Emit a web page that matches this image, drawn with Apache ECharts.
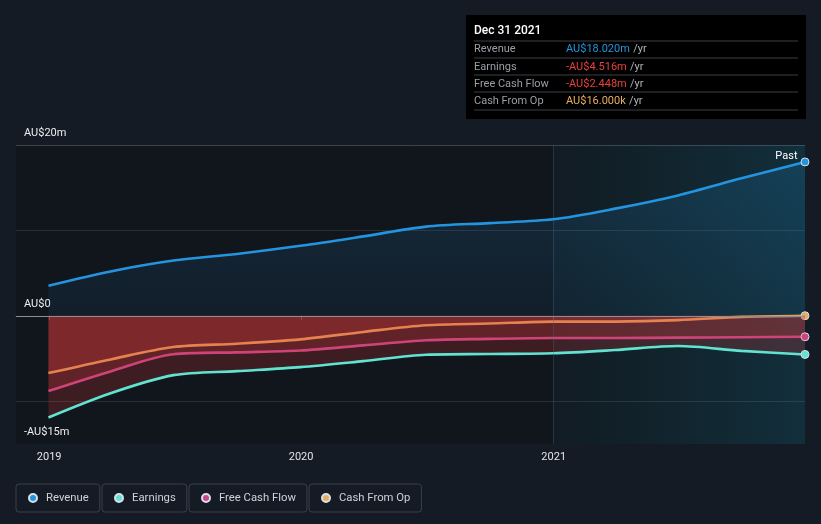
<!DOCTYPE html>
<html>
<head>
<meta charset="utf-8">
<script src="https://cdn.jsdelivr.net/npm/echarts@6/dist/echarts.min.js"></script>
<style>
html,body{margin:0;padding:0;background:#151b25;}
#c{width:821px;height:524px;}
</style>
</head>
<body>
<div id="c"></div>
<script>
const dates = ['2018-12-31','2019-03-31','2019-06-30','2019-09-30','2019-12-31','2020-03-31','2020-06-30','2020-09-30','2020-12-31','2021-03-31','2021-06-30','2021-09-30','2021-12-31'];
const revenue = [3.53, 5.2, 6.47, 7.25, 8.2, 9.3, 10.45, 10.86, 11.3, 12.55, 14.1, 16.1, 18.02];
const earnings = [-11.9, -9.06, -6.94, -6.47, -6.0, -5.3, -4.55, -4.47, -4.38, -4.0, -3.53, -4.1, -4.516];
const fcf = [-8.8, -6.5, -4.5, -4.27, -4.05, -3.45, -2.86, -2.7, -2.6, -2.6, -2.55, -2.5, -2.448];
const cfo = [-6.7, -5.1, -3.65, -3.26, -2.75, -1.88, -1.1, -0.9, -0.68, -0.67, -0.5, -0.12, 0.016];
const yTickLabels = {'20':'AU$20m','0':'AU$0','-15':'-AU$15m'};
const seriesNames = ['Revenue','Earnings','Free Cash Flow','Cash From Op'];
const seriesColors = ['#2394df','#62e3d2','#c9478a','#e8ad5e'];
const tooltipTitle = 'Dec 31 2021';
const pastStart = '2021-01-01';

const font = 'Roboto, "Noto Sans", sans-serif';
const last = dates.length - 1;
function pairs(arr){ return arr.map((v,i)=>[dates[i], v]); }
function fmt(v){
  const a = Math.abs(v);
  const s = v < 0 ? '-' : '';
  if (a >= 1) return s + 'AU$' + a.toFixed(3) + 'm';
  return s + 'AU$' + (a*1000).toFixed(3) + 'k';
}

const allData = [revenue, earnings, fcf, cfo];

function mkSeries(idx){
  const arr = allData[idx];
  const isRev = idx === 0;
  const s = {
    name: seriesNames[idx],
    type: 'line',
    data: pairs(arr),
    smooth: 0.3,
    showSymbol: true,
    showAllSymbol: true,
    symbol: 'circle',
    symbolSize: (v, p) => p.dataIndex === last ? 8 : 0,
    itemStyle: { color: seriesColors[idx], borderColor: '#d8e0e8', borderWidth: 1 },
    lineStyle: { color: seriesColors[idx], width: 2.6 },
    z: 5 - idx,
    areaStyle: isRev ? {
      color: new echarts.graphic.LinearGradient(0,0,0,1,[
        {offset:0,color:'rgba(35,148,223,0.24)'},
        {offset:1,color:'rgba(35,148,223,0.10)'}
      ])
    } : { color: 'rgba(228,62,62,0.31)' },
    emphasis: { disabled: true },
    silent: true
  };
  if (isRev) {
    s.data[last] = { value: s.data[last], label: { show: true, formatter: 'Past', position: 'left', offset: [2,-6], color: '#ffffff', fontSize: 11, fontFamily: font } };
    s.markArea = {
      silent: true,
      itemStyle: {
        color: new echarts.graphic.LinearGradient(0,0,1,0,[
          {offset:0,color:'rgba(20,130,150,0.06)'},
          {offset:1,color:'rgba(20,140,170,0.22)'}
        ]),
        borderWidth: 0
      },
      data: [[{ xAxis: pastStart, yAxis: 20 }, { xAxis: dates[last], yAxis: -15 }]]
    };
    s.markLine = {
      silent: true, symbol: 'none', label: { show: false },
      data: [
        { yAxis: 0, lineStyle: { color: '#8a8f98', width: 1.2, type: 'solid' } },
        { xAxis: pastStart, lineStyle: { color: 'rgba(70,110,125,0.35)', width: 1, type: 'solid' } }
      ]
    };
  }
  return s;
}

// tooltip-like static panel
const panelX = 466, panelY = 15;
const rowVals = [revenue[last], earnings[last], fcf[last], cfo[last]];
const valColors = rowVals.map((v,i)=> i===0 ? '#2394df' : (i===3 ? '#e8ad5e' : (v<0 ? '#e8403f' : '#2394df')));
const panelChildren = [
  { type:'rect', shape:{x:0,y:0,width:340,height:104}, style:{fill:'#000000'} },
  { type:'text', x:8, y:10, style:{text:tooltipTitle, fill:'#ffffff', font:'500 12px '+font} }
];
[26,43,60,77,95].forEach(y=>{
  panelChildren.push({ type:'line', shape:{x1:8,y1:y,x2:332,y2:y}, style:{stroke:'#3c3f44', lineWidth:1} });
});
seriesNames.forEach((n,i)=>{
  const cy = 34.5 + i*17.4;
  panelChildren.push({ type:'text', x:8, y:cy, style:{text:n, fill:'#9a9ea6', font:'11px '+font, verticalAlign:'middle'} });
  panelChildren.push({ type:'text', x:100, y:cy, style:{
    text:'{v|'+fmt(rowVals[i])+'} {u|/yr}', verticalAlign:'middle',
    rich:{ v:{fill:valColors[i], font:'11px '+font}, u:{fill:'#b0b3b8', font:'11px '+font} }
  }});
});

const legends = [];
const legendLefts = [16, 102, 189, 309];
seriesNames.forEach((n,i)=>{
  legends.push({
    data:[n], left: legendLefts[i], top: 484, orient:'horizontal',
    icon:'circle', itemWidth:8, itemHeight:8, itemGap:0,
    padding:[7,11,7,12], borderColor:'#3a3f4a', borderWidth:1, borderRadius:3,
    textStyle:{ color:'#cfd2d6', fontSize:11.3, fontFamily:font, padding:[1,0,0,4], lineHeight:13 },
    selectedMode:false
  });
});

const chart = echarts.init(document.getElementById('c'), null, {renderer:'canvas'});
chart.setOption({
  backgroundColor:'#151b25',
  animation:false,
  textStyle:{fontFamily:font},
  grid:{ left:16, right:16, top:145, bottom:80, show:true, backgroundColor:'#11151c', borderWidth:0 },
  legend: legends,
  xAxis:{
    type:'time',
    min:'2018-11-14', max:'2021-12-31',
    minInterval: 365*24*3600*1000, maxInterval: 366*24*3600*1000,
    axisLine:{ show:true, lineStyle:{ color:'#3d424c', width:1 } },
    axisTick:{ show:true, length:4, lineStyle:{ color:'#555a64' } },
    axisLabel:{ color:'#e2e4e8', fontSize:11, fontFamily:font, margin:8, formatter:'{yyyy}', hideOverlap:true },
    splitLine:{ show:false }
  },
  yAxis:{
    type:'value', min:-15, max:20, interval:5,
    axisLine:{show:false}, axisTick:{show:false},
    axisLabel:{
      inside:true, margin:8, verticalAlign:'bottom', padding:[0,0,6,0],
      color:'#eceef0', fontSize:11, fontFamily:font,
      formatter: v => yTickLabels[String(v)] || ''
    },
    splitLine:{ show:true, lineStyle:{ color:['transparent','#2a2e36','transparent','transparent','transparent','#2a2e36','transparent','#3d424c'], width:1 } }
  },
  series: [mkSeries(0), mkSeries(1), mkSeries(2), mkSeries(3)],
  graphic: [{ type:'group', left:panelX, top:panelY, children:panelChildren }]
});
</script>
</body>
</html>
